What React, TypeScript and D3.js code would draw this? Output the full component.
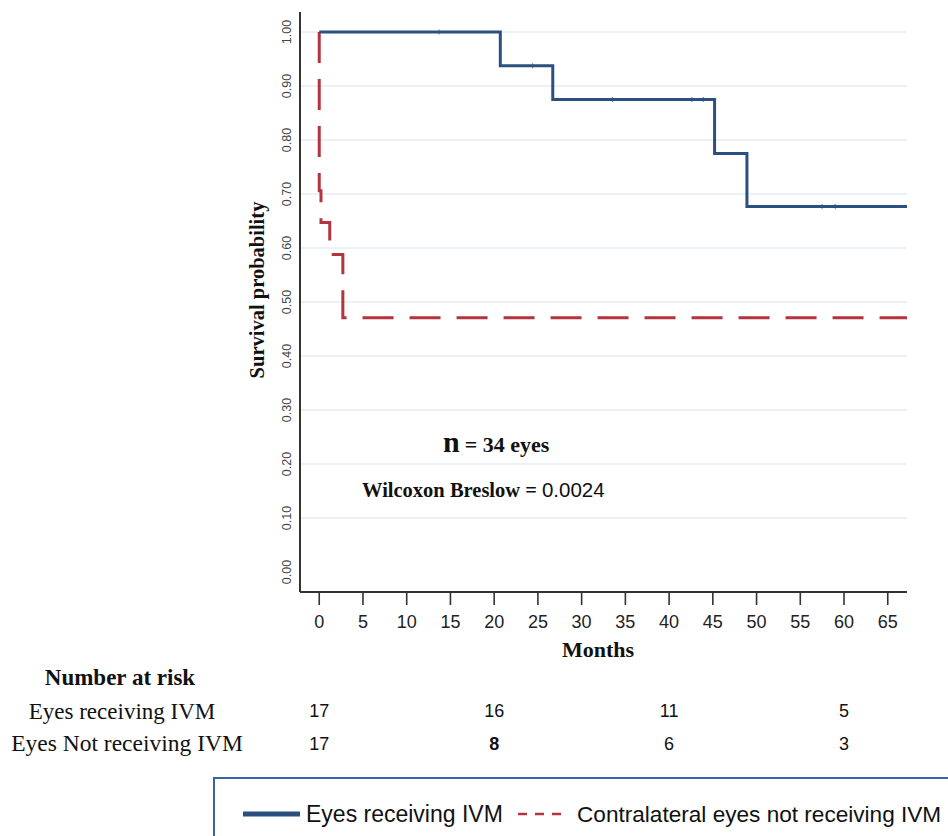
import React from 'react';
import * as d3 from 'd3';

// Kaplan-Meier steps (months, survival)
const ivmTimes = [0, 20.7, 26.7, 45.2, 48.9, 67.2];
const ivmSurv = [1.0, 0.9375, 0.875, 0.775, 0.677, 0.677];
const ivmCensored = [13.7, 24.4, 33.5, 42.6, 43.9, 57.5, 59.0];

const ctrlTimes = [0, 0, 0.2, 1.2, 2.7, 67.2];
const ctrlSurv = [1.0, 0.706, 0.647, 0.588, 0.471, 0.471];

const xTicks = [0, 5, 10, 15, 20, 25, 30, 35, 40, 45, 50, 55, 60, 65];
const yTicks = [0, 0.1, 0.2, 0.3, 0.4, 0.5, 0.6, 0.7, 0.8, 0.9, 1.0];

const riskMonths = [0, 20, 40, 60];
const riskIvm = [17, 16, 11, 5];
const riskCtrl = [17, 8, 6, 3];

const BLUE = '#2b4f7e';
const RED = '#b3343d';
const SERIF = '"Liberation Serif", "Times New Roman", serif';
const SANS = '"Liberation Sans", Arial, sans-serif';

export default function App() {
  const x = d3.scaleLinear().domain([-2.2, 67.2]).range([300, 907]);
  const y = d3.scaleLinear().domain([-0.037, 1.037]).range([592, 12]);

  const line = d3.line<[number, number]>()
    .x(d => x(d[0]))
    .y(d => y(d[1]))
    .curve(d3.curveStepAfter);

  const ivmPath = line(ivmTimes.map((t, i) => [t, ivmSurv[i]]));
  const ctrlPath = line(ctrlTimes.map((t, i) => [t, ctrlSurv[i]]));

  // survival value at a time for the censor ticks
  const survAt = (t: number) => {
    let s = ivmSurv[0];
    ivmTimes.forEach((tt, i) => { if (tt <= t) s = ivmSurv[i]; });
    return s;
  };

  return (
    <svg width={948} height={836} style={{ position: 'absolute', left: 0, top: 0, background: '#fff' }}>
      {/* grid */}
      {yTicks.filter(v => v > 0).map(v => (
        <line key={'g' + v} x1={300} x2={907} y1={y(v)} y2={y(v)} stroke="#e5ecf2" strokeWidth={1.6} />
      ))}

      {/* y axis */}
      <line x1={300} x2={300} y1={12} y2={592} stroke="#333" strokeWidth={2} />
      {yTicks.map(v => (
        <text key={'y' + v} transform={`translate(291,${y(v)}) rotate(-90)`} textAnchor="middle"
          fontFamily={SANS} fontSize={12.5} fill="#444">{v.toFixed(2)}</text>
      ))}
      <text transform="translate(264,290) rotate(-90)" textAnchor="middle" fontFamily={SERIF}
        fontWeight="bold" fontSize={20.5} fill="#111">Survival probability</text>

      {/* x axis */}
      <line x1={300} x2={907} y1={592} y2={592} stroke="#333" strokeWidth={2} />
      {xTicks.map(v => (
        <g key={'x' + v}>
          <line x1={x(v)} x2={x(v)} y1={592} y2={605} stroke="#333" strokeWidth={1.6} />
          <text x={x(v)} y={628} textAnchor="middle" fontFamily={SANS} fontSize={18} fill="#222">{v}</text>
        </g>
      ))}
      <text x={598} y={657} textAnchor="middle" fontFamily={SERIF} fontWeight="bold" fontSize={22} fill="#111">Months</text>

      {/* curves */}
      <path d={ctrlPath || ''} fill="none" stroke={RED} strokeWidth={3} strokeDasharray="31,16" />
      <path d={ivmPath || ''} fill="none" stroke={BLUE} strokeWidth={3} />
      {ivmCensored.map(t => (
        <line key={'c' + t} x1={x(t)} x2={x(t)} y1={y(survAt(t)) - 2.5} y2={y(survAt(t)) + 2.5} stroke={BLUE} strokeWidth={0.8} />
      ))}

      {/* annotations */}
      <text x={443} y={452} fontFamily={SERIF} fontWeight="bold" fill="#111">
        <tspan fontSize={30}>n</tspan>
        <tspan fontSize={22} dx={5}>= 34 eyes</tspan>
      </text>
      <text x={362} y={497} fontFamily={SERIF} fontWeight="bold" fontSize={20.5} fill="#111">
        Wilcoxon Breslow =
        <tspan fontFamily={SANS} fontWeight="normal" dx={5}>0.0024</tspan>
      </text>

      {/* number at risk */}
      <text x={120} y={685} textAnchor="middle" fontFamily={SERIF} fontWeight="bold" fontSize={23} fill="#111">Number at risk</text>
      <text x={122} y={719} textAnchor="middle" fontFamily={SERIF} fontSize={23} fill="#111">Eyes receiving IVM</text>
      <text x={127} y={751} textAnchor="middle" fontFamily={SERIF} fontSize={23.5} fill="#111">Eyes Not receiving IVM</text>
      {riskMonths.map((m, i) => (
        <g key={'r' + m}>
          <text x={x(m)} y={717} textAnchor="middle" fontFamily={SANS} fontSize={18} fill="#111">{riskIvm[i]}</text>
          <text x={x(m)} y={750} textAnchor="middle" fontFamily={SANS} fontSize={18}
            fontWeight={riskCtrl[i] === 8 ? 'bold' : 'normal'} fill="#111">{riskCtrl[i]}</text>
        </g>
      ))}

      {/* legend */}
      <rect x={214} y={778} width={800} height={100} fill="none" stroke="#3a62a6" strokeWidth={2} />
      <line x1={243} x2={300} y1={814} y2={814} stroke={BLUE} strokeWidth={5} />
      <text x={306} y={822} fontFamily={SANS} fontSize={23} fill="#111">Eyes receiving IVM</text>
      <line x1={518} x2={563} y1={814} y2={814} stroke={RED} strokeWidth={2.5} strokeDasharray="9,8" />
      <text x={577} y={822} fontFamily={SANS} fontSize={22.6} fill="#111">Contralateral eyes not receiving IVM</text>
    </svg>
  );
}
